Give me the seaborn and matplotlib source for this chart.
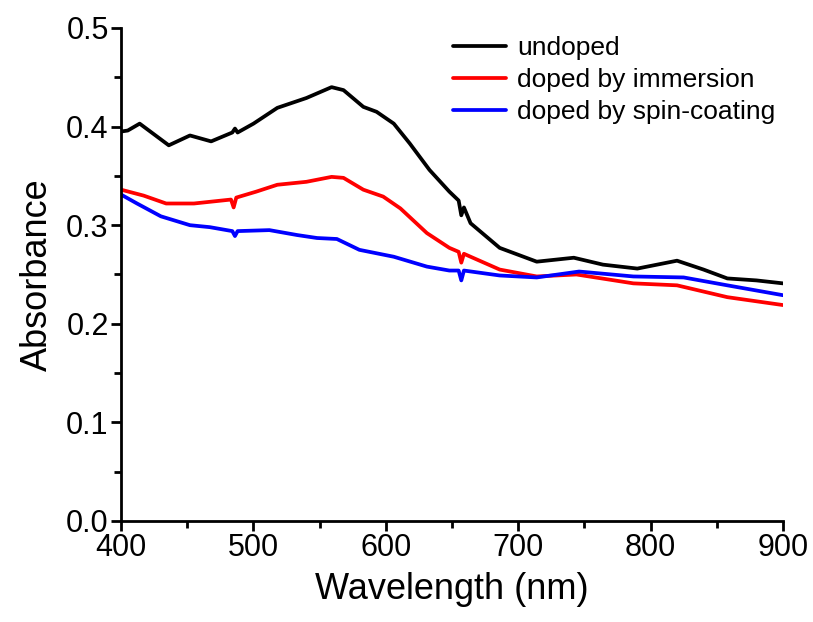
import matplotlib
matplotlib.use("Agg")
import matplotlib.pyplot as plt
from matplotlib.ticker import MultipleLocator, FormatStrFormatter
import seaborn as sns

# values
black_wl = [400, 405, 414, 425, 436, 452, 468, 484, 486, 488, 500, 518, 540, 559, 568,
            583, 593, 606, 618, 633, 648, 655, 657, 659, 664, 686, 714, 742, 764, 790,
            820, 840, 858, 880, 900]
black_abs = [0.395, 0.396, 0.403, 0.392, 0.381, 0.391, 0.385, 0.394, 0.398, 0.394, 0.403,
             0.419, 0.429, 0.440, 0.437, 0.420, 0.415, 0.403, 0.383, 0.356, 0.334, 0.325,
             0.310, 0.318, 0.302, 0.277, 0.263, 0.267, 0.260, 0.256, 0.264, 0.255, 0.246,
             0.244, 0.241]

red_wl = [400, 417, 434, 455, 483, 485, 487, 502, 518, 540, 559, 568, 583, 598, 611, 631,
          648, 655, 657, 659, 664, 686, 714, 744, 787, 820, 858, 900]
red_abs = [0.336, 0.330, 0.322, 0.322, 0.326, 0.318, 0.328, 0.334, 0.341, 0.344, 0.349,
           0.348, 0.336, 0.329, 0.317, 0.292, 0.277, 0.273, 0.262, 0.271, 0.268, 0.255,
           0.248, 0.250, 0.241, 0.239, 0.227, 0.219]

blue_wl = [400, 412, 430, 452, 467, 484, 486, 488, 512, 533, 548, 563, 580, 606, 631, 648,
           655, 657, 659, 686, 714, 746, 787, 825, 858, 900]
blue_abs = [0.331, 0.322, 0.309, 0.300, 0.298, 0.294, 0.289, 0.294, 0.295, 0.290, 0.287,
            0.286, 0.275, 0.268, 0.258, 0.254, 0.254, 0.244, 0.254, 0.249, 0.247, 0.253,
            0.248, 0.247, 0.239, 0.229]

labels = ["undoped", "doped by immersion", "doped by spin-coating"]
colors = ["black", "#ff0000", "#0000ff"]

sns.set_style("ticks", {"axes.edgecolor": "black", "text.color": "black",
                        "axes.labelcolor": "black", "xtick.color": "black",
                        "ytick.color": "black"})
plt.rcParams['font.family'] = ['Liberation Sans', 'DejaVu Sans']

fig = plt.figure(figsize=(8.13, 6.22), dpi=100)
ax = fig.add_axes([0.149, 0.1624, 0.814, 0.7926])

for wl, ab, lab, col in zip([black_wl, red_wl, blue_wl], [black_abs, red_abs, blue_abs], labels, colors):
    sns.lineplot(x=wl, y=ab, ax=ax, color=col, lw=2.7, label=lab)

ax.set_xlim(400, 900)
ax.set_ylim(0.0, 0.5)
ax.xaxis.set_major_locator(MultipleLocator(100))
ax.xaxis.set_minor_locator(MultipleLocator(50))
ax.yaxis.set_major_locator(MultipleLocator(0.1))
ax.yaxis.set_minor_locator(MultipleLocator(0.05))
ax.yaxis.set_major_formatter(FormatStrFormatter('%.1f'))

for s in ["top", "right"]:
    ax.spines[s].set_visible(False)
for s in ["left", "bottom"]:
    ax.spines[s].set_linewidth(2)
ax.tick_params(which="major", direction="out", length=7, width=2, labelsize=22, pad=2)
ax.tick_params(which="minor", direction="out", length=5, width=2)

ax.set_xlabel("Wavelength (nm)", fontsize=26, labelpad=6)
ax.set_ylabel("Absorbance", fontsize=26, labelpad=8)

ax.legend(loc="upper right", frameon=False, prop={'size': 19},
          handlelength=2.0, handletextpad=0.4, labelspacing=0.3, borderaxespad=0.2,
          bbox_to_anchor=(1.012, 1.015))

fig.savefig("out.png", dpi=100)
